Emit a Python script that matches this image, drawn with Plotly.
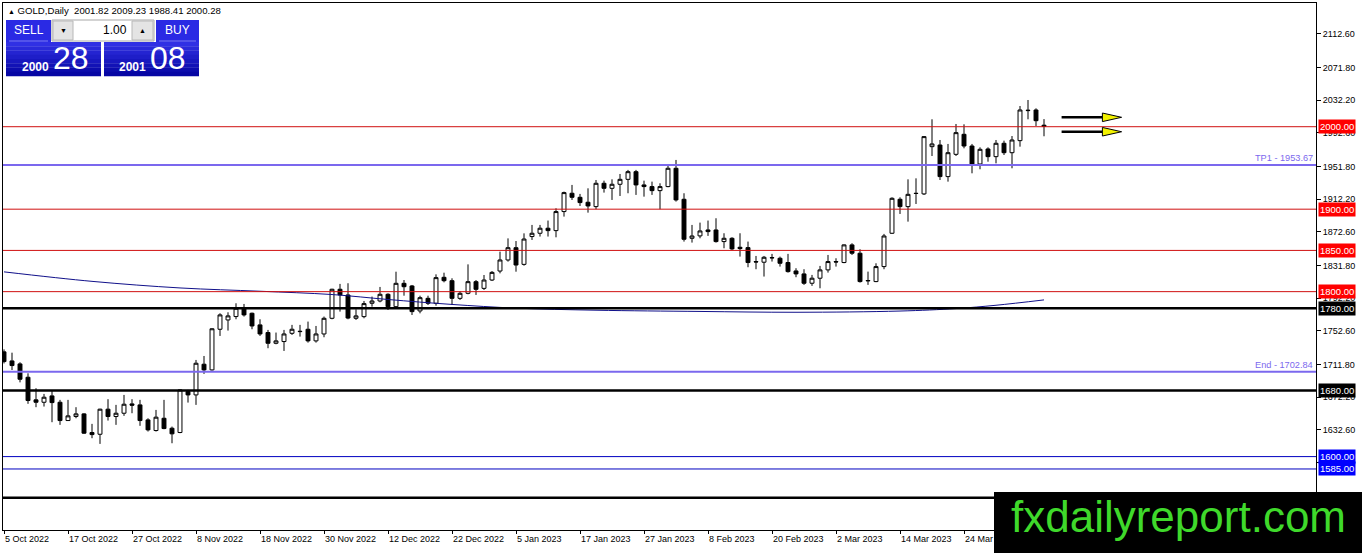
import plotly.graph_objects as go
import pandas as pd

# trading days on the chart (broker closed 26 Dec and 2 Jan)
days = pd.bdate_range("2022-10-05", "2023-04-07")
days = days.drop(pd.to_datetime(["2022-12-26", "2023-01-02"]))
date_labels = [f"{d.day} {d.strftime('%b %Y')}" for d in days]
bar_idx = list(range(len(days)))

opens = [1727.0, 1716.0, 1712.4, 1696.2, 1668.8, 1665.9, 1673.6, 1665.9, 1643.7, 1648.6,
         1651.8, 1629.2, 1627.1, 1657.5, 1648.6, 1652.6, 1663.9, 1662.7, 1644.5, 1631.6,
         1646.5, 1634.4, 1629.2, 1678.9, 1674.8, 1712.0, 1705.1, 1754.4, 1765.7, 1769.8,
         1779.9, 1773.8, 1759.7, 1750.4, 1737.4, 1739.5, 1749.5, 1752.0, 1754.4, 1740.3,
         1748.7, 1767.7, 1802.9, 1796.0, 1767.7, 1769.7, 1785.9, 1788.7, 1796.8, 1781.8,
         1810.1, 1806.9, 1776.6, 1791.9, 1785.9, 1817.4, 1813.3, 1791.9, 1798.0, 1812.1,
         1804.0, 1814.1, 1825.0, 1838.4, 1853.3, 1833.1, 1866.8, 1870.8, 1876.9, 1874.0,
         1897.1, 1919.3, 1914.4, 1908.4, 1903.1, 1931.4, 1925.3, 1930.2, 1936.2, 1945.5,
         1929.4, 1927.4, 1922.5, 1927.4, 1949.6, 1912.0, 1864.7, 1867.6, 1874.8, 1874.8,
         1860.7, 1864.7, 1853.8, 1853.4, 1836.5, 1835.7, 1841.3, 1840.5, 1835.3, 1825.1,
         1821.5, 1810.2, 1816.3, 1826.4, 1836.5, 1835.3, 1856.7, 1846.6, 1813.0, 1812.2,
         1830.4, 1870.8, 1912.0, 1903.1, 1919.3, 1918.5, 1975.8, 1977.8, 1939.5, 1966.5,
         1990.8, 1976.6, 1954.8, 1973.0, 1963.7, 1979.9, 1968.5, 1983.1, 2019.5, 2020.3,
         2001.82]
highs = [1730.0, 1726.0, 1714.4, 1701.0, 1682.9, 1676.0, 1680.0, 1668.8, 1668.8, 1659.9,
         1652.6, 1639.7, 1658.0, 1669.6, 1662.7, 1674.8, 1669.6, 1668.8, 1646.5, 1656.6,
         1668.8, 1636.4, 1681.5, 1680.9, 1717.2, 1722.0, 1755.6, 1773.8, 1775.0, 1785.9,
         1785.1, 1774.6, 1766.5, 1753.6, 1750.4, 1753.6, 1759.7, 1759.7, 1763.7, 1758.4,
         1769.8, 1803.5, 1809.4, 1810.2, 1778.6, 1788.7, 1794.0, 1805.7, 1798.0, 1824.2,
         1814.1, 1808.1, 1795.1, 1795.1, 1821.0, 1823.0, 1816.2, 1800.8, 1833.1, 1814.1,
         1820.2, 1825.0, 1848.5, 1864.6, 1861.4, 1870.7, 1880.9, 1880.9, 1886.2, 1901.1,
         1921.3, 1929.4, 1918.5, 1925.3, 1935.4, 1934.6, 1936.2, 1942.7, 1947.6, 1947.6,
         1934.6, 1933.4, 1931.4, 1954.8, 1959.7, 1919.3, 1880.9, 1883.7, 1886.2, 1889.0,
         1870.8, 1866.0, 1870.8, 1860.7, 1843.3, 1843.3, 1845.8, 1842.5, 1845.8, 1828.4,
         1827.2, 1820.3, 1831.2, 1844.5, 1840.5, 1857.2, 1858.7, 1851.4, 1824.3, 1834.4,
         1870.0, 1914.4, 1914.4, 1936.2, 1937.4, 1988.7, 2009.0, 1983.9, 1979.1, 2003.3,
         2002.9, 1979.1, 1975.0, 1975.0, 1983.9, 1983.1, 1988.7, 2025.1, 2032.4, 2022.3,
         2009.23]
lows = [1713.0, 1705.0, 1690.0, 1664.0, 1659.9, 1660.7, 1641.7, 1638.5, 1643.7, 1646.5,
        1627.6, 1622.3, 1615.4, 1643.7, 1638.5, 1649.4, 1652.6, 1637.3, 1630.4, 1630.4,
        1633.2, 1616.2, 1628.4, 1665.5, 1662.7, 1700.3, 1704.3, 1746.3, 1752.8, 1766.5,
        1769.8, 1754.4, 1746.3, 1731.4, 1736.2, 1728.1, 1747.5, 1745.5, 1738.2, 1738.2,
        1744.7, 1766.5, 1775.8, 1766.5, 1765.7, 1767.7, 1781.8, 1787.1, 1777.8, 1781.0,
        1795.1, 1771.7, 1773.7, 1783.8, 1783.0, 1811.3, 1783.8, 1789.9, 1796.8, 1796.0,
        1802.0, 1812.9, 1822.2, 1836.4, 1824.2, 1831.5, 1862.7, 1866.8, 1866.8, 1865.9,
        1891.0, 1911.2, 1903.9, 1895.8, 1899.9, 1920.1, 1911.2, 1916.0, 1919.3, 1917.3,
        1915.2, 1917.3, 1899.9, 1926.6, 1909.2, 1860.7, 1859.5, 1864.7, 1867.6, 1859.5,
        1852.6, 1850.6, 1842.5, 1829.6, 1827.2, 1818.3, 1836.5, 1830.4, 1823.1, 1817.5,
        1808.2, 1807.0, 1804.1, 1823.1, 1830.4, 1834.5, 1844.5, 1811.0, 1808.2, 1811.5,
        1827.2, 1870.0, 1894.2, 1884.9, 1906.3, 1917.2, 1964.5, 1935.4, 1933.4, 1964.5,
        1973.8, 1943.5, 1948.4, 1957.6, 1955.6, 1965.7, 1949.6, 1975.8, 2009.0, 2000.9,
        1988.41]
closes = [1715.2, 1710.4, 1693.8, 1668.0, 1665.9, 1672.0, 1665.5, 1643.7, 1649.4, 1651.8,
          1628.4, 1626.7, 1657.5, 1648.6, 1652.6, 1663.5, 1662.3, 1643.7, 1632.4, 1647.8,
          1634.0, 1627.6, 1680.9, 1674.8, 1713.2, 1705.1, 1755.0, 1771.8, 1770.6, 1779.9,
          1771.8, 1758.4, 1748.7, 1737.4, 1740.3, 1748.7, 1754.4, 1751.6, 1740.3, 1748.7,
          1767.7, 1802.9, 1796.0, 1768.0, 1770.6, 1785.5, 1788.7, 1796.8, 1781.8, 1810.1,
          1806.0, 1775.8, 1792.7, 1785.9, 1817.0, 1813.3, 1791.9, 1798.0, 1812.1, 1802.8,
          1814.1, 1823.4, 1838.4, 1853.3, 1832.3, 1863.8, 1870.8, 1876.9, 1874.0, 1897.1,
          1920.1, 1914.4, 1908.0, 1903.9, 1931.4, 1925.3, 1930.2, 1936.2, 1945.5, 1929.4,
          1927.4, 1922.5, 1927.4, 1949.6, 1911.2, 1863.5, 1867.5, 1873.6, 1872.8, 1860.7,
          1864.7, 1851.8, 1852.2, 1835.3, 1836.0, 1841.7, 1841.0, 1834.4, 1824.3, 1821.5,
          1810.2, 1816.3, 1826.4, 1836.5, 1836.0, 1856.7, 1846.6, 1812.2, 1813.5, 1830.4,
          1867.5, 1913.2, 1903.1, 1918.0, 1919.0, 1988.0, 1979.1, 1939.5, 1968.5, 1992.8,
          1976.6, 1954.8, 1972.6, 1963.7, 1979.9, 1968.5, 1983.9, 2020.3, 2019.9, 2007.3,
          2000.28]

# moving average, read at a few bars
ma_bars = [0, 11, 22, 32, 41, 48, 56, 64, 74, 87, 99, 112, 119, 124, 130]
ma_vals = [1824.0, 1812.5, 1804.5, 1800.5, 1796.5, 1790.5, 1784.5, 1780.0, 1777.5, 1776.0,
           1775.0, 1776.5, 1779.5, 1783.5, 1790.0]

red_levels = [2000.0, 1900.0, 1850.0, 1800.0]
black_levels = [1780.0, 1680.0, 1550.0]
blue_levels = [1600.0, 1585.0]
tp1 = 1953.67
end_level = 1702.84
y_ticks = [2112.6, 2071.8, 2032.2, 1992.6, 1951.8, 1912.2, 1872.6, 1831.8, 1792.2,
           1752.6, 1711.8, 1672.2, 1632.6, 1593.0]
bid, ask, lot = 2000.28, 2001.08, 1.00

# pixel -> paper helpers (plot box is 3..1316 x 3..530)
def px(x):
    return (x - 3) / 1313.0

def py(y):
    return (530 - y) / 527.0

fig = go.Figure()
fig.add_trace(go.Candlestick(
    x=bar_idx, open=opens, high=highs, low=lows, close=closes,
    increasing=dict(line=dict(color="black", width=1), fillcolor="white"),
    decreasing=dict(line=dict(color="black", width=1), fillcolor="black"),
    whiskerwidth=0, hoverinfo="skip", showlegend=False))
fig.add_trace(go.Scatter(x=ma_bars, y=ma_vals, mode="lines", line=dict(color="#10108a", width=1, shape="spline"),
                         hoverinfo="skip", showlegend=False))

shapes = []
annots = []
box_font = dict(family="Liberation Sans", size=9.5, color="white")

for lv in red_levels:
    shapes.append(dict(type="line", xref="paper", x0=0, x1=1, y0=lv, y1=lv, line=dict(color="#d01010", width=1), layer="above"))
    annots.append(dict(x=1, xref="paper", y=lv, xanchor="left", yanchor="middle", xshift=2, text=f"{lv:.2f}",
                       showarrow=False, bgcolor="#ff0000", font=box_font, borderpad=1))
for lv in black_levels:
    shapes.append(dict(type="line", xref="paper", x0=0, x1=1, y0=lv, y1=lv, line=dict(color="black", width=2.5), layer="above"))
    if lv > 1560:
        annots.append(dict(x=1, xref="paper", y=lv, xanchor="left", yanchor="middle", xshift=2, text=f"{lv:.2f}",
                           showarrow=False, bgcolor="black", font=box_font, borderpad=1))
for lv in blue_levels:
    shapes.append(dict(type="line", xref="paper", x0=0, x1=1, y0=lv, y1=lv, line=dict(color="#0000c0", width=1), layer="above"))
    annots.append(dict(x=1, xref="paper", y=lv, xanchor="left", yanchor="middle", xshift=2, text=f"{lv:.2f}",
                       showarrow=False, bgcolor="#0000ff", font=box_font, borderpad=1))
for lv, name in [(tp1, "TP1"), (end_level, "End")]:
    shapes.append(dict(type="line", xref="paper", x0=0, x1=1, y0=lv, y1=lv, line=dict(color="#7b68ee", width=2), layer="above"))
    annots.append(dict(x=1, xref="paper", y=lv, xanchor="right", yanchor="bottom", xshift=-1, yshift=0,
                       text=f"{name} - {lv:.2f}", showarrow=False,
                       font=dict(family="Liberation Sans", size=9.2, color="#7b68ee")))

# arrows to the right of the last bar
for lv in [2011.4, 1993.9]:
    shapes.append(dict(type="line", x0=132.2, x1=137.3, y0=lv, y1=lv, line=dict(color="black", width=2.5), layer="above"))
    shapes.append(dict(type="path", path=f"M 137.3,{lv + 5.2} L 139.7,{lv} L 137.3,{lv - 5.2} Z",
                       fillcolor="#f2f200", line=dict(color="black", width=1), layer="above"))

# header
annots.append(dict(x=px(6), y=py(10), xref="paper", yref="paper", xanchor="left", yanchor="middle", showarrow=False,
                   text=f"<span style='font-size:7px'>▲</span> GOLD,Daily  {opens[-1]:.2f} {highs[-1]:.2f} {lows[-1]:.2f} {closes[-1]:.2f}",
                   font=dict(family="Liberation Sans", size=9.6, color="black")))

def rect(x0, y0, x1, y1, fill, line_color=None, width=0):
    shapes.append(dict(type="rect", xref="paper", yref="paper", x0=px(x0), x1=px(x1), y0=py(y0), y1=py(y1),
                       fillcolor=fill, line=dict(color=line_color or fill, width=width), layer="above"))

# trade panel
rect(6, 20, 51, 42, "#2a2ae4")
rect(156, 20, 199, 42, "#2a2ae4")
shapes.append(dict(type="line", xref="paper", yref="paper", x0=px(9), x1=px(48), y0=py(41), y1=py(41),
                   line=dict(color="#7c7cf0", width=1), layer="above"))
shapes.append(dict(type="line", xref="paper", yref="paper", x0=px(159), x1=px(196), y0=py(41), y1=py(41),
                   line=dict(color="#7c7cf0", width=1), layer="above"))
rect(52, 20, 154, 41, "white", "#a8a8a8", 1)
rect(53, 21, 73, 40, "#e4e4e4", "#b8b8b8", 1)
rect(132, 21, 153, 40, "#e4e4e4", "#b8b8b8", 1)
bands = 8
for k in range(bands):
    t = k / (bands - 1)
    r = int(48 - 42 * t)
    b = int(228 - 64 * t)
    col = f"rgb({r},{r},{b})"
    ya = 42 + k * 34 / bands
    yb = ya + 34 / bands + 0.3
    rect(6, ya, 101, yb, col)
    rect(104, ya, 199, yb, col)

def txt(x, y, s, size, color="white", anchor="center", bold=False, family="Liberation Sans"):
    if bold:
        s = f"<b>{s}</b>"
    annots.append(dict(x=px(x), y=py(y), xref="paper", yref="paper", xanchor=anchor, yanchor="middle",
                       showarrow=False, text=s, font=dict(family=family, size=size, color=color)))

txt(28.5, 30.5, "SELL", 12)
txt(177.5, 30.5, "BUY", 12)
txt(63, 30.5, "▼", 7, "black")
txt(142.5, 30, "▲", 7, "black")
txt(129, 30.5, f"{lot:.2f}", 12, "black", anchor="right")
bid_s, ask_s = f"{bid:.2f}", f"{ask:.2f}"
txt(35.5, 66.5, bid_s[:4], 12, bold=True)
txt(71, 58, bid_s[5:], 32)
txt(132, 66.5, ask_s[:4], 12, bold=True)
txt(168, 58, ask_s[5:], 32)

# watermark
shapes.append(dict(type="rect", xref="paper", yref="paper", x0=px(994), x1=px(1363), y0=py(492), y1=py(554),
                   fillcolor="black", line=dict(color="black", width=0), layer="above"))
annots.append(dict(x=px(1178), y=py(516), xref="paper", yref="paper", xanchor="center", yanchor="middle",
                   showarrow=False, text="fxdailyreport.com",
                   font=dict(family="Liberation Sans", size=44, color="#3fd92b")))

fig.update_layout(
    width=1362, height=553,
    margin=dict(l=3, r=46, t=3, b=23, autoexpand=False),
    paper_bgcolor="white", plot_bgcolor="white",
    shapes=shapes, annotations=annots,
    showlegend=False, hovermode=False,
    xaxis=dict(range=[-0.125, 164], tickvals=bar_idx[::8], ticktext=date_labels[::8],
               ticks="outside", ticklen=3, tickcolor="black", ticklabelposition="outside right",
               tickfont=dict(family="Liberation Sans", size=9, color="black"), automargin=False,
               showgrid=False, zeroline=False, showline=True, linecolor="black", linewidth=1, mirror=True,
               rangeslider=dict(visible=False), fixedrange=True),
    yaxis=dict(range=[1511, 2150], side="right", tickvals=y_ticks, ticktext=[f"{v:.2f}" for v in y_ticks],
               ticks="outside", ticklen=4, tickcolor="black", automargin=False,
               tickfont=dict(family="Liberation Sans", size=9, color="black"),
               showgrid=False, zeroline=False, showline=True, linecolor="black", linewidth=1, mirror=True,
               fixedrange=True),
)

fig.write_html("out.html", config={"displayModeBar": False},
               post_script="document.body.style.margin='0';")
